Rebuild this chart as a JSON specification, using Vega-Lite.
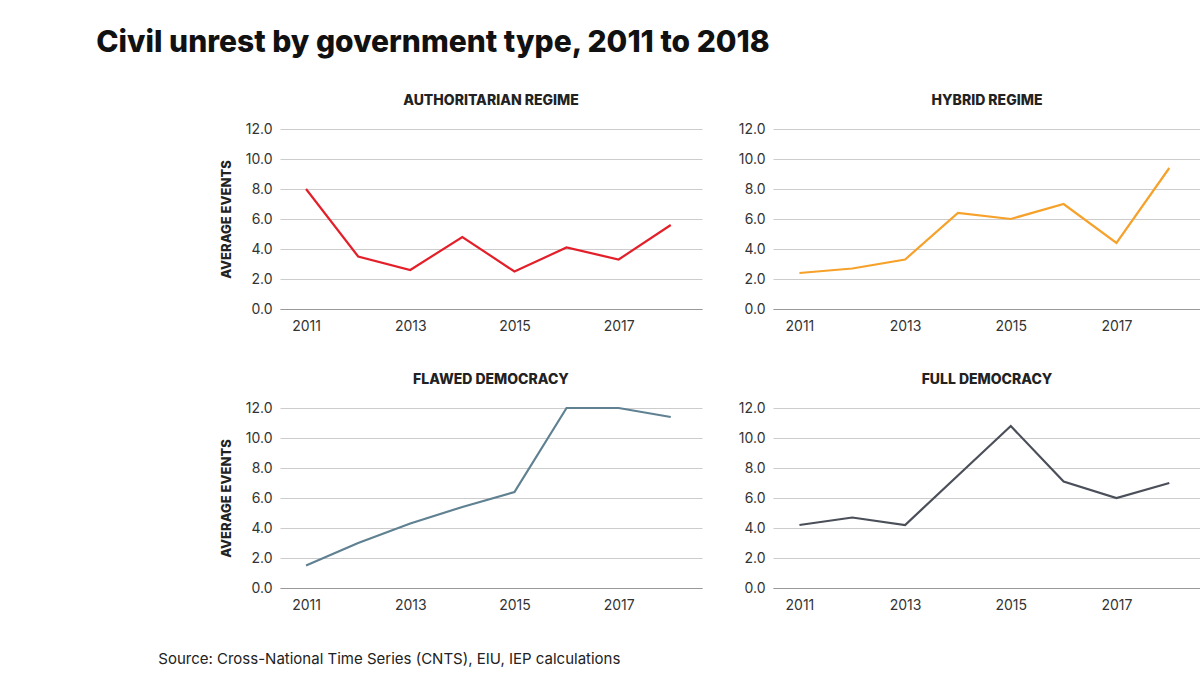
{
  "$schema": "https://vega.github.io/schema/vega-lite/v6.json",
  "background": "white",
  "padding": {"left": 96, "top": 28, "right": 20, "bottom": 10},
  "spacing": 40,
  "title": {"text": "Civil unrest by government type, 2011 to 2018", "anchor": "start", "font": "Inter", "fontSize": 30, "fontWeight": 800, "color": "#111", "offset": 36, "dx": -62},
  "config": {
    "view": {"stroke": null},
    "font": "Inter",
    "title": {"font": "Inter", "fontSize": 14, "fontWeight": 800, "color": "#222", "anchor": "middle", "offset": 14},
    "axisX": {"grid": false, "ticks": false, "domainColor": "#999", "labelFontSize": 14, "labelColor": "#333", "labelPadding": 10, "title": null},
    "axisY": {"domain": false, "ticks": false, "gridColor": "#ccc", "labelFontSize": 14, "labelColor": "#333", "labelPadding": 8, "titleFontSize": 13, "titleFontWeight": 800, "titleColor": "#222", "titlePadding": 12}
  },
  "data": {"values": [
    {"t": "Authoritarian", "year": 2011, "v": 8.0}, {"t": "Authoritarian", "year": 2012, "v": 3.5}, {"t": "Authoritarian", "year": 2013, "v": 2.6}, {"t": "Authoritarian", "year": 2014, "v": 4.8}, {"t": "Authoritarian", "year": 2015, "v": 2.5}, {"t": "Authoritarian", "year": 2016, "v": 4.1}, {"t": "Authoritarian", "year": 2017, "v": 3.3}, {"t": "Authoritarian", "year": 2018, "v": 5.6},
    {"t": "Hybrid", "year": 2011, "v": 2.4}, {"t": "Hybrid", "year": 2012, "v": 2.7}, {"t": "Hybrid", "year": 2013, "v": 3.3}, {"t": "Hybrid", "year": 2014, "v": 6.4}, {"t": "Hybrid", "year": 2015, "v": 6.0}, {"t": "Hybrid", "year": 2016, "v": 7.0}, {"t": "Hybrid", "year": 2017, "v": 4.4}, {"t": "Hybrid", "year": 2018, "v": 9.4},
    {"t": "Flawed", "year": 2011, "v": 1.5}, {"t": "Flawed", "year": 2012, "v": 3.0}, {"t": "Flawed", "year": 2013, "v": 4.3}, {"t": "Flawed", "year": 2014, "v": 5.4}, {"t": "Flawed", "year": 2015, "v": 6.4}, {"t": "Flawed", "year": 2016, "v": 12.0}, {"t": "Flawed", "year": 2017, "v": 12.0}, {"t": "Flawed", "year": 2018, "v": 11.4},
    {"t": "Full", "year": 2011, "v": 4.2}, {"t": "Full", "year": 2012, "v": 4.7}, {"t": "Full", "year": 2013, "v": 4.2}, {"t": "Full", "year": 2014, "v": 7.5}, {"t": "Full", "year": 2015, "v": 10.8}, {"t": "Full", "year": 2016, "v": 7.1}, {"t": "Full", "year": 2017, "v": 6.0}, {"t": "Full", "year": 2018, "v": 7.0}
  ]},
  "vconcat": [
    {
      "spacing": 36,
      "hconcat": [
        {
          "title": "AUTHORITARIAN REGIME",
          "width": 422, "height": 180,
          "transform": [{"filter": "datum.t === 'Authoritarian'"}],
          "mark": {"type": "line", "color": "#e3202a", "strokeWidth": 2.2},
          "encoding": {
            "x": {"field": "year", "type": "quantitative", "scale": {"domain": [2010.5, 2018.6], "nice": false, "zero": false}, "axis": {"values": [2011, 2013, 2015, 2017], "format": "d"}},
            "y": {"field": "v", "type": "quantitative", "scale": {"domain": [0, 12]}, "title": "AVERAGE EVENTS", "axis": {"values": [0, 2, 4, 6, 8, 10, 12], "format": ".1f"}}
          }
        },
        {
          "title": "HYBRID REGIME",
          "width": 428, "height": 180,
          "transform": [{"filter": "datum.t === 'Hybrid'"}],
          "mark": {"type": "line", "color": "#f6a12a", "strokeWidth": 2.2},
          "encoding": {
            "x": {"field": "year", "type": "quantitative", "scale": {"domain": [2010.5, 2018.6], "nice": false, "zero": false}, "axis": {"values": [2011, 2013, 2015, 2017], "format": "d"}},
            "y": {"field": "v", "type": "quantitative", "scale": {"domain": [0, 12]}, "title": null, "axis": {"values": [0, 2, 4, 6, 8, 10, 12], "format": ".1f"}}
          }
        }
      ]
    },
    {
      "spacing": 36,
      "title": {"text": "Source: Cross-National Time Series (CNTS), EIU, IEP calculations", "orient": "bottom", "anchor": "start", "fontSize": 15, "fontWeight": 400, "color": "#222", "offset": 40, "dx": -62},
      "hconcat": [
        {
          "title": "FLAWED DEMOCRACY",
          "width": 422, "height": 180,
          "transform": [{"filter": "datum.t === 'Flawed'"}],
          "mark": {"type": "line", "color": "#5f8191", "strokeWidth": 2.2},
          "encoding": {
            "x": {"field": "year", "type": "quantitative", "scale": {"domain": [2010.5, 2018.6], "nice": false, "zero": false}, "axis": {"values": [2011, 2013, 2015, 2017], "format": "d"}},
            "y": {"field": "v", "type": "quantitative", "scale": {"domain": [0, 12]}, "title": "AVERAGE EVENTS", "axis": {"values": [0, 2, 4, 6, 8, 10, 12], "format": ".1f"}}
          }
        },
        {
          "title": "FULL DEMOCRACY",
          "width": 428, "height": 180,
          "transform": [{"filter": "datum.t === 'Full'"}],
          "mark": {"type": "line", "color": "#4a4f59", "strokeWidth": 2.2},
          "encoding": {
            "x": {"field": "year", "type": "quantitative", "scale": {"domain": [2010.5, 2018.6], "nice": false, "zero": false}, "axis": {"values": [2011, 2013, 2015, 2017], "format": "d"}},
            "y": {"field": "v", "type": "quantitative", "scale": {"domain": [0, 12]}, "title": null, "axis": {"values": [0, 2, 4, 6, 8, 10, 12], "format": ".1f"}}
          }
        }
      ]
    }
  ]
}
